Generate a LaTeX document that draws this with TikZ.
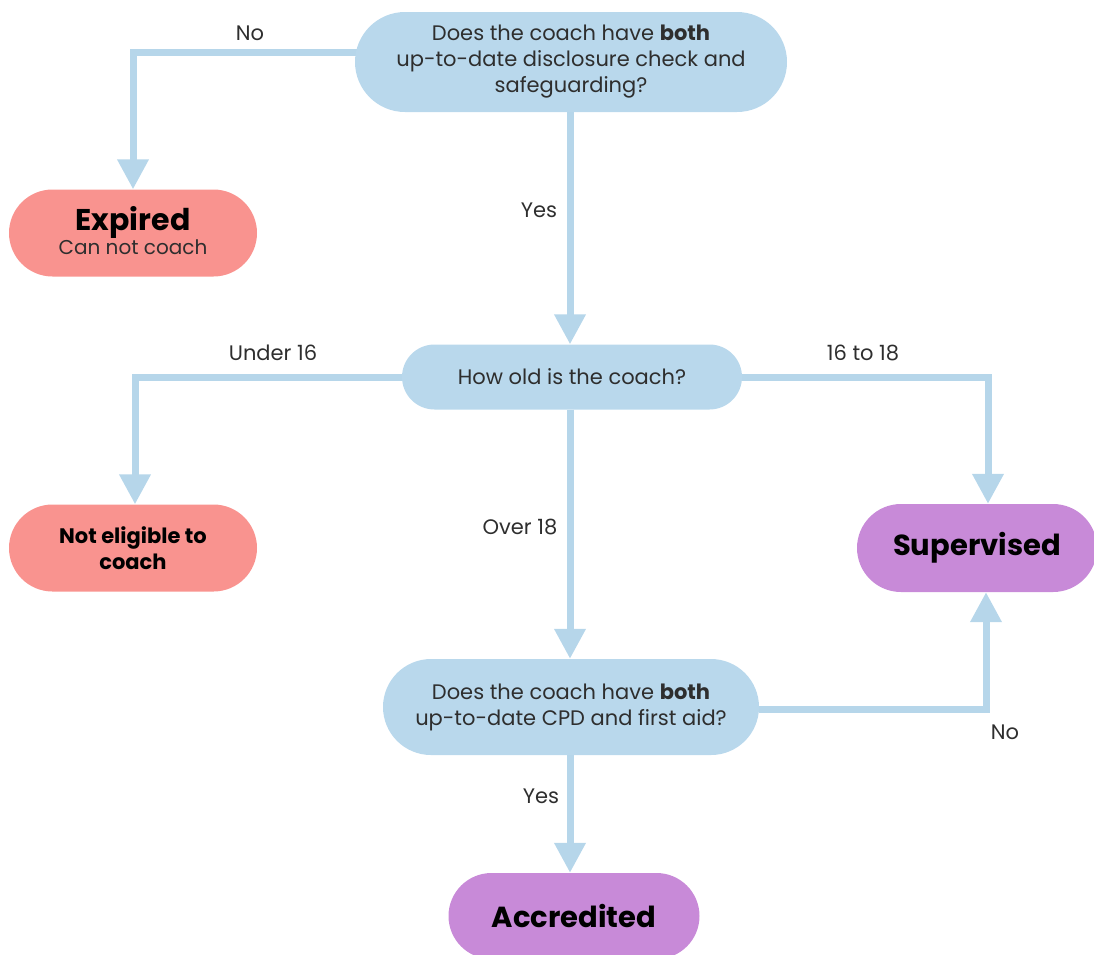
\documentclass[tikz,border=0pt]{standalone}
\usepackage{fontspec}
\setmainfont{Poppins}
\usetikzlibrary{arrows.meta,backgrounds}
\definecolor{qblue}{HTML}{B9D8EC}
\definecolor{lblue}{HTML}{B6D6EA}
\definecolor{salmon}{HTML}{F9938F}
\definecolor{purp}{HTML}{C88AD8}
\definecolor{txt}{HTML}{2E2E2E}
\begin{document}
\begin{tikzpicture}[x=1pt,y=-1pt,
  pill/.style={shape=rectangle,inner sep=0pt,align=center,text=txt,
    font=\fontsize{21}{26}\selectfont},
  qbox/.style={pill,fill=qblue},
  redbox/.style={pill,fill=salmon,text=black},
  purbox/.style={pill,fill=purp,text=black},
  lab/.style={text=txt,font=\fontsize{21}{24}\selectfont,inner sep=0pt},
  conn/.style={draw=lblue,line width=7pt,-{Triangle[width=30pt,length=30pt]}}]
\useasboundingbox (0,0) rectangle (1094,954);
\clip (0,0) rectangle (1094,954);

\node[qbox,minimum width=432pt,minimum height=100pt,rounded corners=50pt] (q1) at (571,62)
  {Does the coach have \textbf{both}\\up-to-date disclosure check and\\safeguarding?};
\node[redbox,minimum width=248pt,minimum height=87pt,rounded corners=43.5pt] (exp) at (133,233)
  {{\fontsize{30}{32}\selectfont\textbf{Expired}}\\[-2pt]{\color{txt}\fontsize{20}{24}\selectfont Can not coach\rule[-6pt]{0pt}{6pt}}};
\node[qbox,minimum width=340pt,minimum height=65pt,rounded corners=32.5pt] (age) at (572,377)
  {How old is the coach?};
\node[redbox,minimum width=248pt,minimum height=87pt,rounded corners=43.5pt] (nel) at (133,548)
  {\textbf{Not eligible to}\\\textbf{coach}};
\node[purbox,minimum width=240pt,minimum height=88pt,rounded corners=44pt] (sup) at (977,548)
  {\fontsize{29}{32}\selectfont\textbf{Supervised}};
\node[qbox,minimum width=376pt,minimum height=96pt,rounded corners=48pt] (q2) at (571,707)
  {Does the coach have \textbf{both}\\up-to-date CPD and first aid?};
\node[purbox,minimum width=251pt,minimum height=86pt,rounded corners=43pt] (acc) at (574,916)
  {\fontsize{29}{32}\selectfont\textbf{Accredited}};

\node[lab] (l1) at (250,33) {No};
\node[lab] (l2) at (539,210) {Yes};
\node[lab] (l3) at (273,353) {Under 16};
\node[lab] (l4) at (863,353) {16 to 18};
\node[lab] (l5) at (520,527) {Over 18};
\node[lab] (l6) at (1005,732) {No};
\node[lab] (l7) at (541,796) {Yes};

\begin{scope}[on background layer]
  \draw[conn] ([xshift=4pt,yshift=10pt]q1.west) -| (exp.north);
  \draw[conn] (q1.south -| 570,0) -- (age.north -| 570,0);
  \draw[conn] (age.west) -| ([xshift=2pt]nel.north);
  \draw[conn] (age.east) -| ([xshift=11pt]sup.north);
  \draw[conn] (age.south -| 570,0) -- (q2.north -| 570,0);
  \draw[conn] ([yshift=-2pt]q2.east) -| ([xshift=9pt]sup.south);
  \draw[conn] (q2.south -| 570,0) -- (acc.north -| 570,0);
\end{scope}
\end{tikzpicture}
\end{document}
